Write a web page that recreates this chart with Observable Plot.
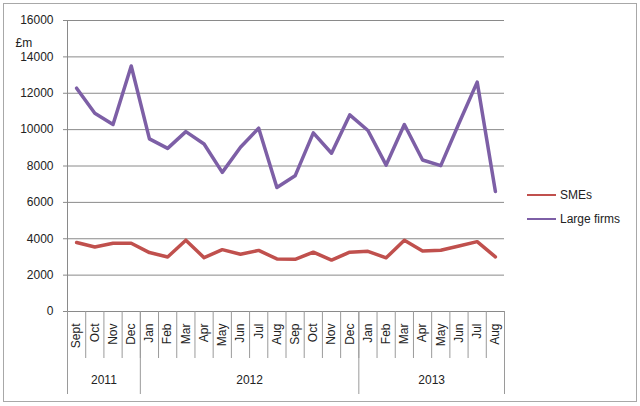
<!DOCTYPE html>
<html>
<head>
<meta charset="utf-8">
<script src="https://cdn.jsdelivr.net/npm/d3@7"></script>
<script src="https://cdn.jsdelivr.net/npm/@observablehq/plot@0.6"></script>
<style>
  body { margin: 0; background: #fff; }
  #wrap { position: relative; width: 640px; height: 406px; font-family: "Liberation Sans", Arial, sans-serif; }
  #border { position: absolute; left: 3px; top: 3px; width: 632px; height: 397px; border: 1.5px solid #a8a8a8; pointer-events: none; }
  #legend { position: absolute; left: 527px; top: 183px; font-size: 12px; color: #222; }
  .item { display: flex; align-items: center; height: 24px; }
  .swatch { width: 29px; height: 0; border-top: 2px solid; margin-right: 4px; }
</style>
</head>
<body>
<div id="wrap"><div id="border"></div>
<div id="legend"></div>
</div>
<script>
const months = ["Sept","Oct","Nov","Dec","Jan","Feb","Mar","Apr","May","Jun","Jul","Aug",
                "Sep","Oct","Nov","Dec","Jan","Feb","Mar","Apr","May","Jun","Jul","Aug"];
const years = ["2011","2011","2011","2011",
               "2012","2012","2012","2012","2012","2012","2012","2012","2012","2012","2012","2012",
               "2013","2013","2013","2013","2013","2013","2013","2013"];
const smes = [3790,3550,3750,3750,3240,3000,3920,2960,3400,3150,3360,2890,
              2870,3260,2830,3260,3310,2950,3920,3330,3370,3600,3840,3000];
const large = [12280,10900,10280,13500,9490,8970,9890,9210,7650,9030,10080,6820,
               7460,9820,8700,10810,9950,8050,10280,8330,8020,10350,12610,6600];
const yTicks = [0,2000,4000,6000,8000,10000,12000,14000,16000];
const seriesNames = ["SMEs","Large firms"];
const seriesColors = ["#c0504d","#7d5fa6"];

const rows = [];
months.forEach((m, i) => {
  rows.push({i, month: m, series: "SMEs", value: smes[i]});
  rows.push({i, month: m, series: "Large firms", value: large[i]});
});

// year groups from the years array
const groups = [];
years.forEach((y, i) => {
  const g = groups[groups.length - 1];
  if (g && g.year === y) g.end = i + 1; else groups.push({year: y, start: i, end: i + 1});
});
const yearBounds = [0, ...groups.map(g => g.end)];
const monthBounds = d3.range(months.length + 1);

const font = "Liberation Sans, Arial, sans-serif";
const chart = Plot.plot({
  width: 640,
  height: 406,
  marginLeft: 67,
  marginRight: 136,
  marginTop: 20,
  marginBottom: 95,
  style: {fontFamily: font, fontSize: "12px", color: "#222", background: "transparent"},
  x: {type: "linear", domain: [0, months.length], axis: null},
  y: {domain: [0, 16000], axis: null},
  color: {domain: seriesNames, range: seriesColors},
  marks: [
    Plot.ruleY(yTicks, {stroke: "#8a8a8a", strokeWidth: 1, insetLeft: -4}),
    Plot.ruleX([0], {stroke: "#8a8a8a", strokeWidth: 1}),
    Plot.text(yTicks, {x: 0, y: d => d, text: d => String(d), textAnchor: "end", dx: -14, fill: "#222", fontSize: 12}),
    Plot.text(["£m"], {frameAnchor: "top-left", lineAnchor: "middle", dx: -52, dy: 23, textAnchor: "start", fill: "#222", fontSize: 12}),
    // month separators
    Plot.ruleX(monthBounds, {x: d => d, y1: 0, y2: 0, insetBottom: -47, stroke: "#9a9a9a", strokeWidth: 1}),
    // year separators
    Plot.ruleX(yearBounds, {x: d => d, y1: 0, y2: 0, insetBottom: -83, stroke: "#9a9a9a", strokeWidth: 1}),
    // month labels
    Plot.text(months, {x: (d, i) => i + 0.5, y: 0, text: d => d, rotate: -90, textAnchor: "end", dy: 12, fill: "#222", fontSize: 12}),
    // year labels
    Plot.text(groups, {x: g => (g.start + g.end) / 2, y: 0, text: "year", dy: 69, fill: "#222", fontSize: 12}),
    Plot.line(rows, {x: d => d.i + 0.5, y: "value", z: "series", stroke: "series", strokeWidth: 3.5, strokeLinejoin: "round"})
  ]
});
const wrap = document.getElementById("wrap");
wrap.insertBefore(chart, wrap.firstChild);

const legend = document.getElementById("legend");
seriesNames.forEach((n, k) => {
  const it = document.createElement("div");
  it.className = "item";
  const sw = document.createElement("div");
  sw.className = "swatch";
  sw.style.borderTopColor = seriesColors[k];
  const t = document.createElement("span");
  t.textContent = n;
  it.appendChild(sw); it.appendChild(t);
  legend.appendChild(it);
});
</script>
</body>
</html>
